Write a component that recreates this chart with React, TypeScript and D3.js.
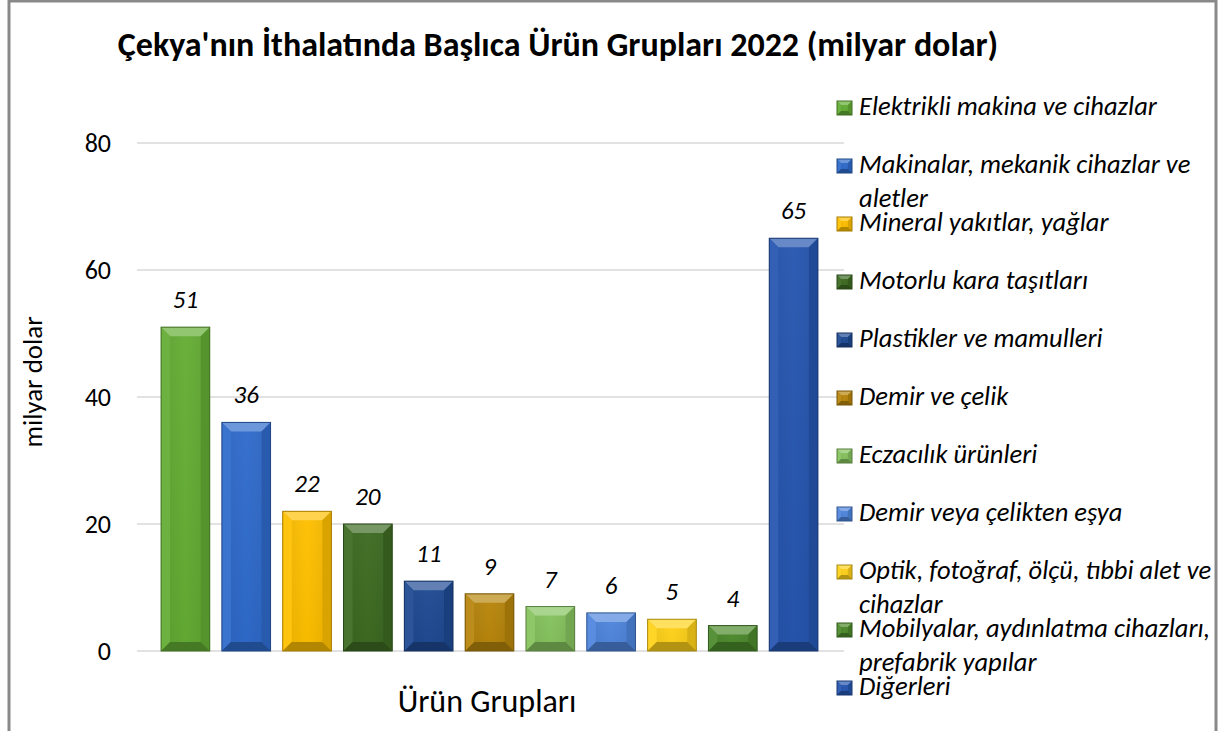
import React, { useEffect, useRef } from "react";
import * as d3 from "d3";

// veriler (milyar dolar)
const categories = [
  "Elektrikli makina ve cihazlar",
  "Makinalar, mekanik cihazlar ve aletler",
  "Mineral yakıtlar, yağlar",
  "Motorlu kara taşıtları",
  "Plastikler ve mamulleri",
  "Demir ve çelik",
  "Eczacılık ürünleri",
  "Demir veya çelikten eşya",
  "Optik, fotoğraf, ölçü, tıbbi alet ve cihazlar",
  "Mobilyalar, aydınlatma cihazları, prefabrik yapılar",
  "Diğerleri",
];
const values = [51, 36, 22, 20, 11, 9, 7, 6, 5, 4, 65];
const colors = [
  "#64ad34", "#2f6bcc", "#ffc000", "#3d6b22", "#1f4a93", "#b8860b",
  "#86c35e", "#4f86dd", "#ffd21a", "#4c8a2c", "#2656b0",
];
const yTicks = [0, 20, 40, 60, 80];

const W = 1219, H = 731;
const FONT = "Carlito, Calibri, 'Open Sans', sans-serif";

export default function App() {
  const ref = useRef<SVGSVGElement | null>(null);

  useEffect(() => {
    const svg = d3.select(ref.current);
    svg.selectAll("*").remove();

    svg.append("rect").attr("x", 0).attr("y", 0).attr("width", W).attr("height", H).attr("fill", "#fff");
    svg.append("rect")
      .attr("x", 9).attr("y", 1).attr("width", 1207).attr("height", H + 20)
      .attr("fill", "none").attr("stroke", "#898989").attr("stroke-width", 3);

    const y = d3.scaleLinear().domain([0, 80]).range([651, 143]);
    const x = d3.scaleBand<number>()
      .domain(d3.range(values.length))
      .range([155, 824])
      .paddingInner(0.2)
      .paddingOuter(0.1);

    // ızgara
    svg.append("g").selectAll("line").data(yTicks).join("line")
      .attr("x1", 137).attr("x2", 844)
      .attr("y1", d => y(d)).attr("y2", d => y(d))
      .attr("stroke", "#d9d9d9").attr("stroke-width", 1.5);

    svg.append("g").selectAll("text").data(yTicks).join("text")
      .attr("x", 111).attr("y", d => y(d)).attr("dy", "0.35em")
      .attr("text-anchor", "end")
      .attr("font-family", FONT).attr("font-size", 26).attr("fill", "#000")
      .text(d => d);

    const defs = svg.append("defs");
    const mix = (c: string, t: string, k: number) => d3.interpolateRgb(c, t)(k);

    colors.forEach((c, i) => {
      const g = defs.append("linearGradient").attr("id", "g" + i)
        .attr("x1", 0).attr("x2", 1).attr("y1", 0).attr("y2", 0);
      g.append("stop").attr("offset", 0).attr("stop-color", mix(c, "#000", 0.12));
      g.append("stop").attr("offset", 0.5).attr("stop-color", c);
      g.append("stop").attr("offset", 1).attr("stop-color", mix(c, "#000", 0.12));
      const v = defs.append("linearGradient").attr("id", "v" + i)
        .attr("x1", 0).attr("x2", 0).attr("y1", 0).attr("y2", 1);
      v.append("stop").attr("offset", 0).attr("stop-color", mix(c, "#fff", 0.1));
      v.append("stop").attr("offset", 1).attr("stop-color", mix(c, "#000", 0.08));
    });

    const bevel = (g: any, i: number, bx: number, by: number, bw: number, bh: number, b: number) => {
      const c = colors[i];
      g.append("rect").attr("x", bx).attr("y", by).attr("width", bw).attr("height", bh)
        .attr("fill", `url(#v${i})`);
      g.append("rect").attr("x", bx).attr("y", by).attr("width", bw).attr("height", bh)
        .attr("fill", `url(#g${i})`).attr("opacity", 0.6);
      const poly = (pts: number[][], fill: string) =>
        g.append("polygon").attr("points", pts.map(p => p.join(",")).join(" ")).attr("fill", fill);
      poly([[bx, by], [bx + bw, by], [bx + bw - b, by + b], [bx + b, by + b]], mix(c, "#fff", 0.3));
      poly([[bx, by], [bx + b, by + b], [bx + b, by + bh - b], [bx, by + bh]], mix(c, "#fff", 0.06));
      poly([[bx + bw, by], [bx + bw - b, by + b], [bx + bw - b, by + bh - b], [bx + bw, by + bh]], mix(c, "#000", 0.15));
      poly([[bx, by + bh], [bx + b, by + bh - b], [bx + bw - b, by + bh - b], [bx + bw, by + bh]], mix(c, "#000", 0.3));
      g.append("rect").attr("x", bx).attr("y", by).attr("width", bw).attr("height", bh)
        .attr("fill", "none").attr("stroke", mix(c, "#000", 0.35)).attr("stroke-width", 1);
    };

    const bars = svg.append("g");
    values.forEach((v, i) => {
      const bx = x(i)!, bw = x.bandwidth();
      const by = y(v), bh = y(0) - y(v);
      bevel(bars.append("g"), i, bx, by, bw, bh, Math.min(9, bh / 2));
    });

    svg.append("g").selectAll("text").data(values).join("text")
      .attr("x", (d, i) => x(i)! + x.bandwidth() / 2)
      .attr("y", d => y(d) - 19)
      .attr("text-anchor", "middle")
      .attr("font-family", FONT).attr("font-style", "italic")
      .attr("font-size", 25).attr("fill", "#000")
      .text(d => d);

    // başlıklar
    svg.append("text").attr("x", 558).attr("y", 56).attr("text-anchor", "middle")
      .attr("font-family", FONT).attr("font-weight", "bold").attr("font-size", 34)
      .text("Çekya'nın İthalatında Başlıca Ürün Grupları 2022 (milyar dolar)");
    svg.append("text").attr("transform", "translate(42,382) rotate(-90)")
      .attr("text-anchor", "middle")
      .attr("font-family", FONT).attr("font-size", 27)
      .text("milyar dolar");
    svg.append("text").attr("x", 487).attr("y", 712).attr("text-anchor", "middle")
      .attr("font-family", FONT).attr("font-size", 32)
      .text("Ürün Grupları");

    // lejant
    const leg = svg.append("g");
    const maxW = 354;
    categories.forEach((name, i) => {
      const base = 115 + i * 58;
      bevel(leg.append("g"), i, 837, base - 14, 15, 14, 4);
      const t = leg.append("text")
        .attr("font-family", FONT).attr("font-style", "italic").attr("font-size", 26.5);
      const words = name.split(" ");
      let line: string[] = [];
      let ln = 0;
      let ts = t.append("tspan").attr("x", 859).attr("y", base);
      words.forEach(w => {
        line.push(w);
        ts.text(line.join(" "));
        if ((ts.node() as SVGTSpanElement).getComputedTextLength() > maxW && line.length > 1) {
          line.pop();
          ts.text(line.join(" "));
          line = [w];
          ln++;
          ts = t.append("tspan").attr("x", 859).attr("y", base + ln * 34).text(w);
        }
      });
    });
  }, []);

  return (
    <div style={{ position: "absolute", left: 0, top: 0 }}>
      <svg ref={ref} width={W} height={H} style={{ display: "block" }} />
    </div>
  );
}
